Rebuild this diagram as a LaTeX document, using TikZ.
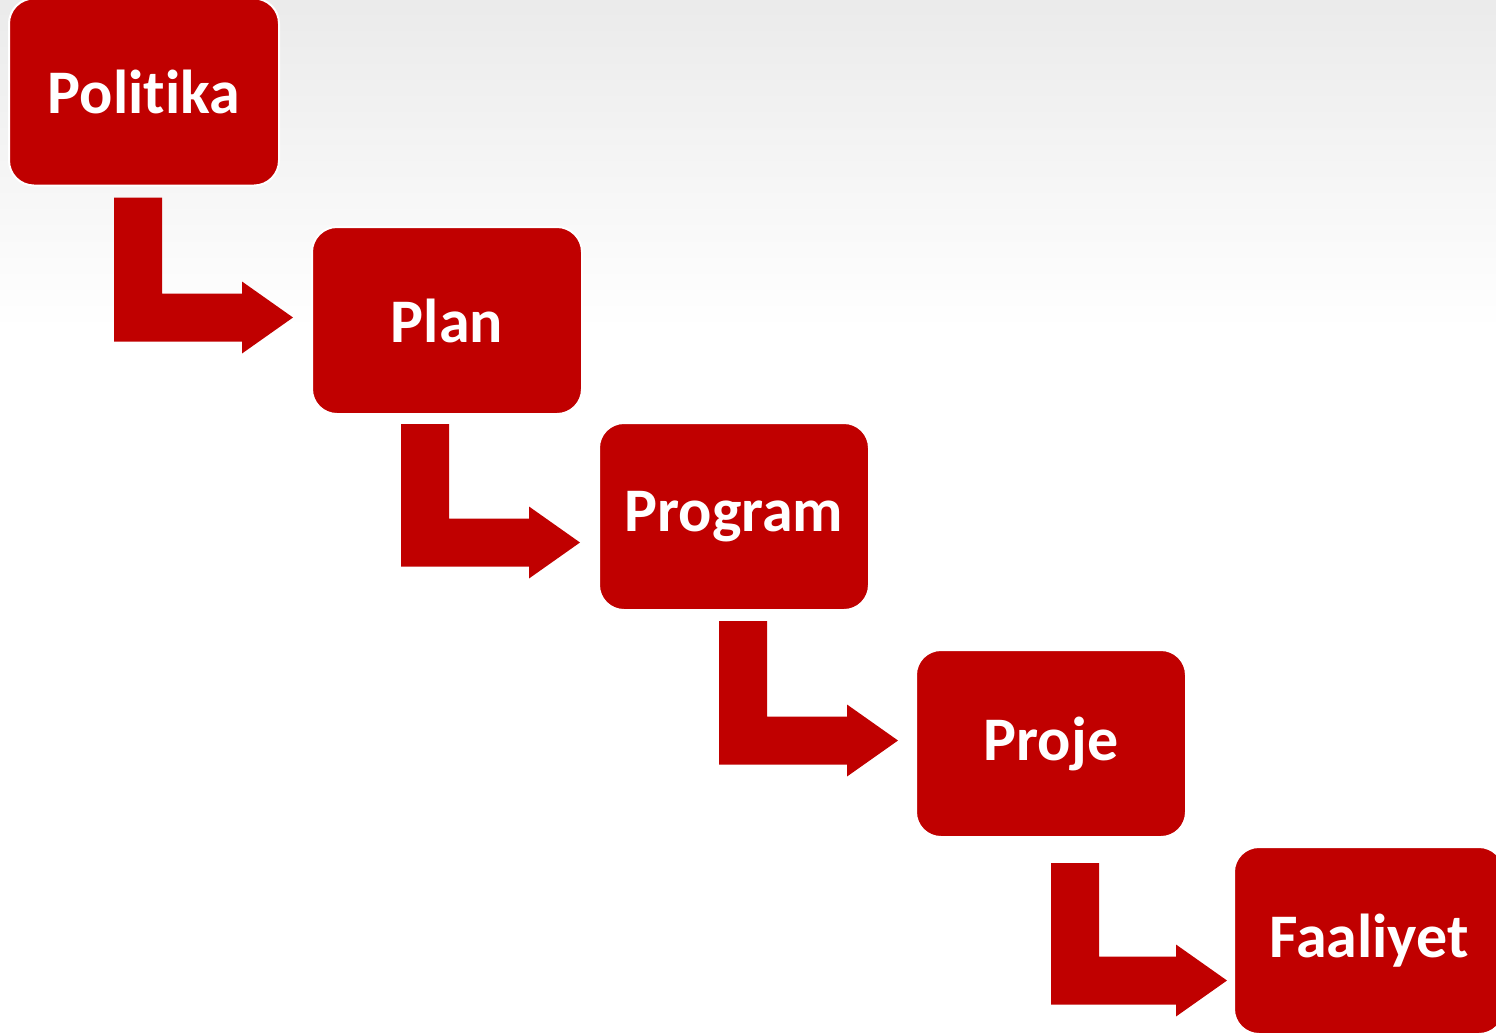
\documentclass[tikz,border=0pt]{standalone}
\usepackage{fontspec}
\setmainfont[Ligatures=NoCommon]{Carlito}
\usetikzlibrary{calc}
\definecolor{stagered}{HTML}{C00000}
% bent block arrow: from node, offset of its top left corner, to node, offset of its tip
\newcommand{\steparrow}[4]{%
  \fill[stagered] ($(#1.south west)+#2$) coordinate (top)
    -- ++(48,0) |- ($(#3.west)+#4+(-51,-24)$) -- ++(0,-12)
    -- ($(#3.west)+#4$) -- ++(-51,36) -- ++(0,-12) -| (top) -- cycle;}
\begin{document}
\begin{tikzpicture}[x=0.5pt,y=-0.5pt]
  \tikzstyle{stage}=[fill=stagered, draw=white, line width=1pt,
    rounded corners=12.5pt, minimum width=135pt, minimum height=93.5pt,
    text=white, font=\bfseries\fontsize{31}{31}\selectfont]
  \clip (0,0) rectangle (1496,1035);
  \fill[white] (0,0) rectangle (1496,1035);
  \shade[top color=black!8, bottom color=white] (0,0) rectangle (1496,330);
  \node[stage] (politika) at (144,92) {Politika};
  \node[stage] (plan) at (447,320.5) {Plan};
  \node[stage] (program) at (734,516.5) {Program};
  \node[stage] (proje) at (1051,743.5) {Proje};
  \node[stage] (faaliyet) at (1369,940.5) {Faaliyet};
  \steparrow{politika}{(106,11)}{plan}{(-18,-3)}
  \steparrow{plan}{(90,9)}{program}{(-18,26)}
  \steparrow{program}{(121,10)}{proje}{(-17,-3)}
  \steparrow{proje}{(136,25)}{faaliyet}{(-6,40)}
\end{tikzpicture}
\end{document}
